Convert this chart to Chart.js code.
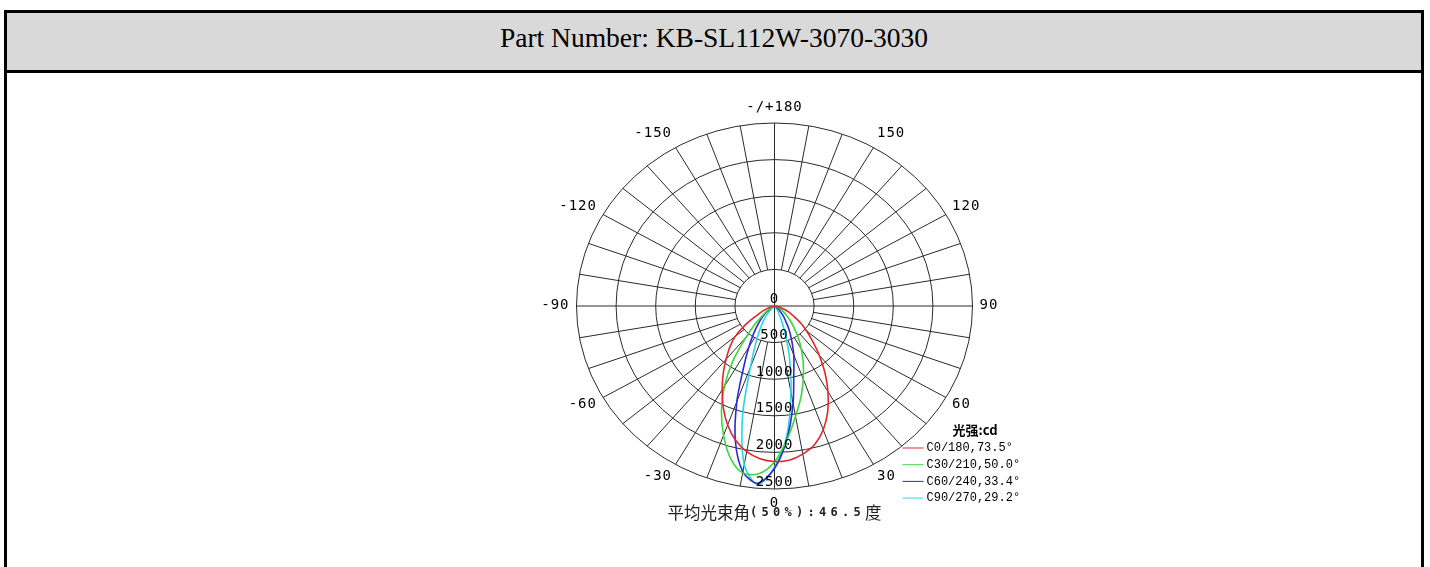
<!DOCTYPE html>
<html>
<head>
<meta charset="utf-8">
<script src="https://cdn.jsdelivr.net/npm/chart.js@4.4.1/dist/chart.umd.min.js"></script>
<style>
  html, body { margin: 0; padding: 0; background: #fff; width: 1430px; height: 567px; overflow: hidden; }
  #frame { position: absolute; left: 4px; top: 10px; width: 1414px; height: 600px; border: 3px solid #000; border-bottom: none; }
  #header { height: 57px; background: #d9d9d9; border-bottom: 3px solid #000; text-align: center;
            font-family: "Liberation Serif", "Times New Roman", serif; font-size: 27.5px; line-height: 49px; color: #000; }
  #myChart { position: absolute; left: 0; top: 0; }
</style>
</head>
<body>
<div id="frame"><div id="header">Part Number: KB-SL112W-3070-3030</div></div>
<canvas id="myChart" width="1430" height="567"></canvas>
<script>
// gamma angles (deg), 0 = straight down, + to the right
const gammas = [-90, -85, -80, -75, -70, -65, -60, -55, -50, -45, -40, -35, -30, -25, -20, -15, -10, -5, 0,
                5, 10, 15, 20, 25, 30, 35, 40, 45, 50, 55, 60, 65, 70, 75, 80, 85, 90]
// luminous intensity, cd
const c0 = [0, 5, 20, 50, 95, 160, 260, 450, 650, 800, 950, 1130, 1320, 1530, 1730, 1900, 2020, 2095, 2125,
            2115, 2055, 1960, 1800, 1590, 1350, 1110, 880, 680, 530, 400, 280, 200, 130, 75, 35, 10, 0]
const c30 = [0, 0, 0, 0, 5, 20, 45, 100, 190, 340, 560, 915, 1265, 1585, 1880, 2150, 2315, 2300, 2130,
             1830, 1530, 1290, 1060, 860, 675, 520, 380, 280, 200, 140, 100, 65, 40, 25, 10, 5, 0]
const c60 = [0, 0, 0, 0, 5, 15, 40, 80, 140, 220, 320, 460, 650, 920, 1390, 1910, 2300, 2430, 2220,
             1820, 1350, 940, 710, 510, 360, 240, 160, 100, 60, 35, 20, 10, 5, 0, 0, 0, 0]
const c90 = [0, 0, 0, 0, 0, 0, 0, 10, 30, 70, 140, 240, 360, 560, 890, 1560, 2200, 2450, 2200,
             1780, 1200, 730, 390, 180, 90, 45, 20, 10, 5, 0, 0, 0, 0, 0, 0, 0, 0]

const seriesNames = ['C0/180,73.5°', 'C30/210,50.0°', 'C60/240,33.4°', 'C90/270,29.2°']
const seriesColors = ['#e3262c', '#3ad83a', '#2b2bd6', '#2ad6e6']

const ringValues = [500, 1000, 1500, 2000, 2500]
const ringLabels = ['500', '1000', '1500', '2000', '2500']
const angleTicks = [0, 30, 60, 90, 120, 150, 180, -150, -120, -90, -60, -30]
const angleTickLabels = ['0', '30', '60', '90', '120', '150', '-/+180', '-150', '-120', '-90', '-60', '-30']
const legendTitle = '光强:cd'
const beamText = ['平均光束角', '(50%):46.5', '度']

const rad = d => d * Math.PI / 180
// polar (gamma, cd) -> x/y values for the linear scales
function toPoints(values) {
    return gammas.map((g, i) => ({x: values[i] * Math.sin(rad(g)), y: -values[i] * Math.cos(rad(g))}))
}

/////////////////////////////////////////////////////////////
// polar grid + labels
/////////////////////////////////////////////////////////////
const polarGrid = {
    id: 'polarGrid',
    beforeDatasetsDraw(chart) {
        const {ctx, scales: {x, y}} = chart
        const cx = x.getPixelForValue(0), cy = y.getPixelForValue(0)
        const rMax = ringValues[ringValues.length - 1]
        ctx.save()
        ctx.strokeStyle = '#2a2a2a'
        ctx.lineWidth = 1
        ringValues.forEach(v => {
            ctx.beginPath()
            ctx.ellipse(cx, cy, x.getPixelForValue(v) - cx, cy - y.getPixelForValue(v), 0, 0, 2 * Math.PI)
            ctx.stroke()
        })
        for (let a = 0; a < 360; a += 10) {
            const r0 = a % 90 === 0 ? 0 : ringValues[0]
            const s = Math.sin(rad(a)), c = Math.cos(rad(a))
            ctx.beginPath()
            ctx.moveTo(x.getPixelForValue(r0 * s), y.getPixelForValue(-r0 * c))
            ctx.lineTo(x.getPixelForValue(rMax * s), y.getPixelForValue(-rMax * c))
            ctx.stroke()
        }
        ctx.restore()
    },
    afterDatasetsDraw(chart) {
        const {ctx, scales: {x, y}} = chart
        const cx = x.getPixelForValue(0), cy = y.getPixelForValue(0)
        const rMax = ringValues[ringValues.length - 1]
        const rx = x.getPixelForValue(rMax) - cx, ry = cy - y.getPixelForValue(rMax)
        ctx.save()
        ctx.fillStyle = '#000'
        ctx.textBaseline = 'middle'
        ctx.font = '14px "DejaVu Sans Mono", monospace'
        ctx.letterSpacing = '1px'
        // cd values along the 0 axis
        ctx.textAlign = 'center'
        ctx.fillText('0', cx, cy - 7)
        ringValues.forEach((v, i) => ctx.fillText(ringLabels[i], cx, y.getPixelForValue(-v) - 7))
        // angle labels: left side right-aligned, right side left-aligned
        angleTicks.forEach((a, i) => {
            const s = Math.sin(rad(a)), c = Math.cos(rad(a))
            ctx.textAlign = Math.abs(s) < 0.01 ? 'center' : (s > 0 ? 'left' : 'right')
            ctx.fillText(angleTickLabels[i], cx + (rx + 7) * s, cy + (ry + 15) * c - 1)
        })
        ctx.restore()
    },
    afterDraw(chart) {
        const {ctx, chartArea, scales: {x}} = chart
        const cx = x.getPixelForValue(0)
        ctx.save()
        // legend
        ctx.fillStyle = '#000'
        ctx.textBaseline = 'middle'
        ctx.textAlign = 'left'
        ctx.font = 'bold 13px "Noto Sans CJK SC", sans-serif'
        ctx.fillText(legendTitle, chartArea.right - 20, chartArea.bottom - 59)
        ctx.font = '12px "Liberation Mono", monospace'
        seriesNames.forEach((name, i) => {
            const yy = chartArea.bottom - 41 + i * 16.7
            ctx.strokeStyle = seriesColors[i]
            ctx.lineWidth = 1
            ctx.beginPath()
            ctx.moveTo(chartArea.right - 70, yy)
            ctx.lineTo(chartArea.right - 49, yy)
            ctx.stroke()
            ctx.fillText(name, chartArea.right - 46, yy)
        })
        // average beam angle
        const yb = chartArea.bottom + 24
        const cjk = '16.5px "Noto Sans CJK SC", sans-serif'
        const mono = 'bold 12px "DejaVu Sans Mono", monospace'
        ctx.font = cjk
        const w1 = ctx.measureText(beamText[0]).width
        const w3 = ctx.measureText(beamText[2]).width
        ctx.font = mono
        ctx.letterSpacing = '4.3px'
        const w2 = ctx.measureText(beamText[1]).width
        let xx = cx - (w1 + w2 + w3) / 2
        ctx.fillStyle = '#222'
        ctx.font = cjk
        ctx.letterSpacing = '0px'
        ctx.fillText(beamText[0], xx, yb)
        xx += w1
        ctx.font = mono
        ctx.letterSpacing = '4.3px'
        ctx.fillText(beamText[1], xx, yb)
        xx += w2
        ctx.font = cjk
        ctx.letterSpacing = '0px'
        ctx.fillText(beamText[2], xx, yb)
        ctx.restore()
    }
}

/////////////////////////////////////////////////////////////
// chart
/////////////////////////////////////////////////////////////
const curves = [c0, c30, c60, c90]
const data = {
    datasets: curves.map((vals, i) => ({
        label: seriesNames[i],
        data: toPoints(vals),
        showLine: true,
        borderColor: seriesColors[i],
        borderWidth: 1.6,
        pointRadius: 0,
        tension: 0.3,
        fill: false,
        clip: false
    }))
}

const config = {
    type: 'scatter',
    data: data,
    plugins: [polarGrid],
    options: {
        responsive: false,
        animation: false,
        layout: {padding: {left: 576.5, right: 457.5, top: 123, bottom: 78}},
        plugins: {
            legend: {display: false},
            tooltip: {enabled: false}
        },
        scales: {
            x: {type: 'linear', min: -2500, max: 2500, display: false},
            y: {type: 'linear', min: -2500, max: 2500, display: false}
        }
    }
}

const myChart = new Chart(document.getElementById('myChart'), config)
</script>
</body>
</html>
